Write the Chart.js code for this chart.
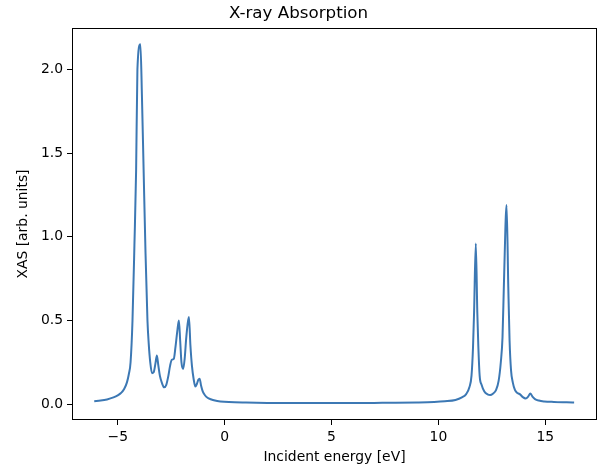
<!DOCTYPE html>
<html>
<head>
<meta charset="utf-8">
<script src="https://cdn.jsdelivr.net/npm/chart.js@4.4.1/dist/chart.umd.min.js"></script>
<style>
  html, body { margin: 0; padding: 0; background: #fff; }
  #wrap { width: 605px; height: 470px; }
</style>
</head>
<body>
<div id="wrap"><canvas id="c" width="605" height="470"></canvas></div>
<script>
// Incident energy [eV]
const energy = [
  -6.10, -5.80, -5.50, -5.20, -5.00, -4.85, -4.70, -4.57, -4.48, -4.40,
  -4.31, -4.22, -4.14, -4.08, -3.94, -3.87, -3.79, -3.70, -3.61, -3.55,
  -3.48, -3.40, -3.32, -3.24, -3.17, -3.10, -3.03, -2.93, -2.83, -2.73,
  -2.63, -2.55, -2.47, -2.38, -2.30, -2.22, -2.14, -2.08, -2.02, -1.94,
  -1.87, -1.80, -1.73, -1.67, -1.60, -1.53, -1.45, -1.37, -1.30, -1.23,
  -1.17, -1.10, -1.02, -0.92, -0.80, -0.65, -0.45, -0.20, 0.20, 1.00,
  2.00, 3.00, 4.00, 5.00, 6.00, 7.00, 8.00, 9.00, 9.80, 10.30,
  10.80, 11.10, 11.30, 11.45, 11.55, 11.62, 11.67, 11.75, 11.82, 11.87,
  11.93, 12.02, 12.15, 12.30, 12.42, 12.55, 12.70, 12.82, 12.92, 13.00,
  13.07, 13.19, 13.27, 13.33, 13.40, 13.48, 13.58, 13.70, 13.82, 13.95,
  14.08, 14.20, 14.30, 14.40, 14.52, 14.70, 14.95, 15.40, 16.00, 16.35
];
// XAS [arb. units]
const xas = [
  0.017, 0.021, 0.028, 0.040, 0.052, 0.066, 0.090, 0.130, 0.180, 0.250,
  0.500, 0.950, 1.400, 2.000, 2.150, 1.850, 1.400, 0.900, 0.500, 0.360,
  0.250, 0.185, 0.190, 0.240, 0.290, 0.230, 0.170, 0.125, 0.100, 0.115,
  0.170, 0.230, 0.265, 0.270, 0.340, 0.430, 0.500, 0.380, 0.250, 0.210,
  0.270, 0.390, 0.480, 0.520, 0.350, 0.230, 0.150, 0.105, 0.120, 0.145,
  0.152, 0.110, 0.075, 0.053, 0.038, 0.029, 0.021, 0.016, 0.012, 0.009,
  0.007, 0.006, 0.006, 0.006, 0.006, 0.007, 0.008, 0.010, 0.013, 0.017,
  0.025, 0.040, 0.060, 0.100, 0.170, 0.340, 0.550, 0.960, 0.550, 0.340,
  0.170, 0.115, 0.075, 0.058, 0.054, 0.062, 0.085, 0.140, 0.250, 0.400,
  0.740, 1.190, 0.700, 0.380, 0.200, 0.130, 0.085, 0.066, 0.058, 0.042,
  0.034, 0.045, 0.064, 0.045, 0.030, 0.021, 0.016, 0.013, 0.011, 0.010
];
const xTicks = [-5, 0, 5, 10, 15];
const xTickLabels = ['\u22125', '0', '5', '10', '15'];
const yTicks = [0.0, 0.5, 1.0, 1.5, 2.0];
const yTickLabels = ['0.0', '0.5', '1.0', '1.5', '2.0'];

const points = energy.map((e, i) => ({ x: e, y: xas[i] }));

const FONT = "'DejaVu Sans', sans-serif";

const framePlugin = {
  id: 'frame',
  afterDatasetsDraw(chart) {
    const { ctx, chartArea: a } = chart;
    ctx.save();
    ctx.strokeStyle = '#000';
    ctx.lineWidth = 1;
    ctx.strokeRect(Math.round(a.left) + 0.5, Math.round(a.top) + 0.5,
      Math.round(a.right - a.left) - 1, Math.round(a.bottom - a.top) - 1);
    ctx.restore();
  }
};

new Chart(document.getElementById('c'), {
  type: 'line',
  data: {
    datasets: [{
      data: points,
      borderColor: '#3c78b4',
      borderWidth: 2,
      pointRadius: 0,
      fill: false,
      cubicInterpolationMode: 'monotone'
    }]
  },
  options: {
    responsive: false,
    animation: false,
    devicePixelRatio: 1,
    layout: { padding: { left: 0, right: 8, top: 0, bottom: 0 } },
    plugins: {
      legend: { display: false },
      tooltip: { enabled: false },
      title: {
        display: true,
        text: 'X-ray Absorption',
        color: '#000',
        font: { family: FONT, size: 16.7, weight: 'normal' },
        padding: { top: 4, bottom: 4 }
      }
    },
    scales: {
      x: {
        type: 'linear',
        min: -7.14,
        max: 17.42,
        afterFit(s) { s.height = 50; },
        afterBuildTicks(s) { s.ticks = xTicks.map(v => ({ value: v })); },
        grid: { display: true, drawOnChartArea: false, drawTicks: true, tickLength: 5, color: '#000', lineWidth: 1 },
        border: { display: false },
        ticks: {
          color: '#000',
          font: { family: FONT, size: 13.9 },
          padding: 4,
          maxRotation: 0,
          autoSkip: false,
          callback(v, i) { return xTickLabels[i]; }
        },
        title: {
          display: true,
          text: 'Incident energy [eV]',
          color: '#000',
          font: { family: FONT, size: 13.9 },
          padding: { top: 0, bottom: 4 }
        }
      },
      y: {
        type: 'linear',
        min: -0.095,
        max: 2.247,
        afterFit(s) { s.width = 72; },
        afterBuildTicks(s) { s.ticks = yTicks.map(v => ({ value: v })); },
        grid: { display: true, drawOnChartArea: false, drawTicks: true, tickLength: 5, color: '#000', lineWidth: 1 },
        border: { display: false },
        ticks: {
          color: '#000',
          font: { family: FONT, size: 13.9 },
          padding: 4,
          autoSkip: false,
          callback(v, i) { return yTickLabels[i]; }
        },
        title: {
          display: true,
          text: 'XAS [arb. units]',
          color: '#000',
          font: { family: FONT, size: 13.9 },
          padding: { top: 15, bottom: 0 }
        }
      }
    }
  },
  plugins: [framePlugin]
});
</script>
</body>
</html>
